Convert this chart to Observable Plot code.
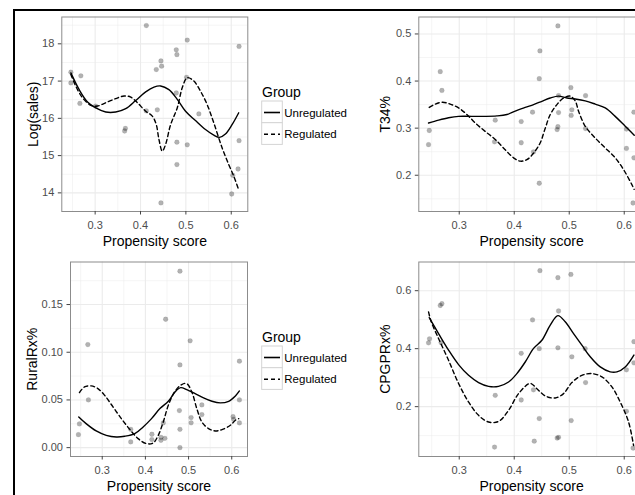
<!DOCTYPE html>
<html><head><meta charset="utf-8">
<script src="https://cdn.jsdelivr.net/npm/d3@7"></script>
<script src="https://cdn.jsdelivr.net/npm/@observablehq/plot@0.6"></script>
<style>
body{margin:0;background:#fff;}
#wrap{position:relative;width:635px;height:495px;overflow:hidden;background:#fff;font-family:"Liberation Sans",Arial,sans-serif;}
.abs{position:absolute;}
</style></head><body><div id="wrap"></div>
<script>
// ---------- data ----------
const groups = ["Unregulated", "Regulated"];
const xTicks = [0.3, 0.4, 0.5, 0.6];
const xMinor = [0.25, 0.35, 0.45, 0.55];
const xTitle = "Propensity score";

// Top-left: Log(sales)
const salesPtsX = [0.2465,0.2465,0.2685,0.2663,0.301,0.365,0.3667,0.4128,0.4128,0.437,0.4348,0.445,0.4465,0.445,0.4788,0.4802,0.4788,0.4802,0.4802,0.503,0.5015,0.503,0.5286,0.6172,0.6172,0.615,0.6033,0.601];
const salesPtsY = [17.24,16.95,17.14,16.40,16.33,15.66,15.73,18.49,16.20,16.23,17.31,17.54,17.40,13.73,17.84,17.71,16.68,15.36,14.76,18.10,17.10,15.29,16.12,17.93,15.40,14.64,14.47,13.97];
const salesUnregX = [0.2465,0.2648,0.2832,0.3015,0.3234,0.3454,0.3674,0.3894,0.4114,0.4297,0.4443,0.4626,0.481,0.4993,0.5212,0.5432,0.5615,0.574,0.5872,0.6018,0.6165];
const salesUnregY = [17.22,16.77,16.44,16.28,16.17,16.17,16.26,16.48,16.71,16.84,16.87,16.77,16.51,16.19,15.94,15.70,15.55,15.49,15.58,15.83,16.15];
const salesRegX = [0.2465,0.2575,0.2722,0.2905,0.3051,0.3234,0.3454,0.3637,0.3784,0.393,0.4114,0.426,0.4348,0.4407,0.448,0.4553,0.4663,0.481,0.492,0.503,0.5176,0.5322,0.5469,0.5615,0.5798,0.5945,0.6055,0.615];
const salesRegY = [17.18,16.86,16.55,16.35,16.33,16.42,16.53,16.60,16.57,16.42,16.19,16.06,15.83,15.43,15.12,15.30,15.83,16.28,16.82,17.09,17.00,16.73,16.37,15.88,15.21,14.76,14.45,14.13];
const salesTicks = [14, 15, 16, 17, 18];
const salesMinor = [13.5, 14.5, 15.5, 16.5, 17.5, 18.5];

// Top-right: T34%
const t34PtsX = [0.2442,0.2455,0.2655,0.2685,0.3642,0.3655,0.4127,0.4127,0.4333,0.435,0.4455,0.4467,0.4455,0.4794,0.4806,0.4806,0.4794,0.478,0.503,0.5048,0.5036,0.5297,0.5297,0.604,0.604,0.6176,0.6176,0.616];
const t34PtsY = [0.265,0.295,0.42,0.380,0.271,0.317,0.269,0.314,0.334,0.2495,0.183,0.464,0.405,0.517,0.369,0.333,0.303,0.297,0.386,0.339,0.327,0.369,0.299,0.298,0.257,0.334,0.237,0.141];
const t34UnregX = [0.2442,0.2624,0.2806,0.2988,0.323,0.3473,0.3685,0.3867,0.4018,0.42,0.4352,0.4503,0.4655,0.4806,0.4958,0.5109,0.5291,0.5473,0.5655,0.5836,0.6018,0.6182];
const t34UnregY = [0.311,0.317,0.322,0.325,0.325,0.325,0.326,0.329,0.336,0.344,0.35,0.357,0.364,0.368,0.364,0.362,0.358,0.351,0.343,0.325,0.304,0.285];
const t34RegX = [0.2455,0.2564,0.2697,0.2836,0.2988,0.3139,0.3291,0.3473,0.3655,0.3836,0.3988,0.4109,0.423,0.4352,0.4473,0.4564,0.4655,0.4776,0.4897,0.5018,0.5109,0.517,0.5291,0.5473,0.5655,0.5836,0.5988,0.6139,0.618];
const t34RegY = [0.344,0.351,0.355,0.351,0.343,0.329,0.311,0.293,0.276,0.254,0.237,0.230,0.233,0.247,0.269,0.30,0.329,0.35,0.364,0.368,0.358,0.336,0.304,0.279,0.258,0.237,0.212,0.180,0.170];
const t34Ticks = [0.2, 0.3, 0.4, 0.5];
const t34Minor = [0.15, 0.25, 0.35, 0.45];

// Bottom-left: RuralRx%
const ruralPtsX = [0.2448,0.2472,0.2666,0.268,0.366,0.366,0.415,0.415,0.436,0.436,0.445,0.4414,0.4469,0.48,0.48,0.4787,0.48,0.48,0.5036,0.5059,0.5059,0.5308,0.5308,0.603,0.6046,0.6178,0.6178,0.6178];
const ruralPtsY = [0.0136,0.0248,0.108,0.05,0.0192,0.006,0.014,0.0084,0.0108,0.0077,0.0098,0.0259,0.1346,0.185,0.0867,0.0388,0.0192,0.0,0.112,0.0315,0.026,0.0448,0.0346,0.0325,0.0297,0.0906,0.05,0.0259];
const ruralUnregX = [0.2456,0.2627,0.286,0.3093,0.3326,0.3521,0.3754,0.3948,0.4142,0.4336,0.4531,0.4686,0.4818,0.4958,0.5152,0.5347,0.5541,0.5735,0.5929,0.6085,0.6178];
const ruralUnregY = [0.0322,0.0252,0.0175,0.0129,0.0112,0.0119,0.0147,0.0217,0.0304,0.0409,0.0486,0.0584,0.0629,0.0608,0.0566,0.0521,0.0486,0.0469,0.0486,0.0542,0.0594];
const ruralRegX = [0.2472,0.2588,0.2744,0.2899,0.3054,0.3249,0.3443,0.3637,0.3831,0.4026,0.4181,0.4298,0.4414,0.4531,0.4686,0.4841,0.4958,0.5075,0.5191,0.5308,0.5463,0.5618,0.5774,0.5968,0.6085,0.6163];
const ruralRegY = [0.0577,0.0636,0.0647,0.0619,0.0549,0.0427,0.0304,0.0192,0.0094,0.0042,0.0049,0.0129,0.0269,0.0444,0.0591,0.0661,0.0671,0.0584,0.0409,0.0269,0.0199,0.0175,0.0189,0.0234,0.0287,0.0304];
const ruralTicks = [0, 0.05, 0.10, 0.15];
const ruralMinor = [0.025, 0.075, 0.125, 0.175];

// Bottom-right: CPGPRx%
const cpgPtsX = [0.2442,0.246,0.2655,0.2685,0.267,0.3655,0.3642,0.4127,0.4127,0.4333,0.435,0.4364,0.4455,0.4467,0.4455,0.4794,0.4806,0.4794,0.478,0.4806,0.503,0.5048,0.5036,0.5297,0.529,0.604,0.604,0.6176,0.6176,0.616];
const cpgPtsY = [0.420,0.434,0.549,0.555,0.421,0.239,0.0605,0.384,0.223,0.499,0.258,0.081,0.40,0.669,0.159,0.645,0.530,0.403,0.0916,0.094,0.656,0.372,0.152,0.283,0.40,0.327,0.184,0.424,0.351,0.057];
const cpgUnregX = [0.2455,0.2624,0.2806,0.2988,0.317,0.3352,0.3533,0.3715,0.3897,0.4048,0.42,0.4352,0.4503,0.4655,0.4794,0.4927,0.5079,0.523,0.5382,0.5564,0.5745,0.5867,0.6018,0.6176];
const cpgUnregY = [0.507,0.452,0.395,0.345,0.308,0.283,0.270,0.270,0.285,0.314,0.354,0.401,0.429,0.481,0.514,0.493,0.452,0.412,0.372,0.337,0.320,0.320,0.337,0.378];
const cpgRegX = [0.2442,0.2491,0.2624,0.2806,0.2988,0.317,0.3352,0.3533,0.3715,0.3897,0.4079,0.4291,0.4412,0.4564,0.4745,0.4897,0.5048,0.523,0.5412,0.5594,0.5776,0.5927,0.6079,0.617];
const cpgRegY = [0.527,0.493,0.435,0.360,0.280,0.216,0.170,0.147,0.149,0.187,0.245,0.280,0.262,0.237,0.230,0.245,0.283,0.308,0.314,0.303,0.268,0.216,0.147,0.066];
const cpgTicks = [0.2, 0.4, 0.6];
const cpgMinor = [0.1, 0.3, 0.5];

// ---------- helpers ----------
const zip = (xs, ys) => xs.map((x, i) => ({x, y: ys[i]}));
const wrap = document.getElementById("wrap");
const FONT = "'Liberation Sans', Arial, sans-serif";
const xDomain = [0.2265, 0.6365];
const gridColor = "#ebebeb";

function panel(cfg) {
  const svg = Plot.plot({
    width: cfg.width, height: cfg.height,
    marginLeft: cfg.mL, marginRight: cfg.mR, marginTop: cfg.mT, marginBottom: cfg.mB,
    x: {domain: xDomain},
    y: {domain: cfg.yDomain},
    style: {fontFamily: FONT, fontSize: "11px", background: "transparent", maxWidth: "none", overflow: "visible"},
    marks: [
      Plot.frame({fill: "white"}),
      Plot.gridX(xMinor, {stroke: gridColor, strokeOpacity: 1, strokeWidth: 0.5}),
      Plot.gridY(cfg.yMinor, {stroke: gridColor, strokeOpacity: 1, strokeWidth: 0.5}),
      Plot.gridX(xTicks, {stroke: gridColor, strokeOpacity: 1, strokeWidth: 1.1}),
      Plot.gridY(cfg.yTicks, {stroke: gridColor, strokeOpacity: 1, strokeWidth: 1.1}),
      Plot.dot(zip(cfg.ptsX, cfg.ptsY), {x: "x", y: "y", r: 2.4, fill: "#000", fillOpacity: 0.3, stroke: "#000", strokeOpacity: 0.12, strokeWidth: 0.6}),
      Plot.line(zip(cfg.unregX, cfg.unregY), {x: "x", y: "y", curve: "catmull-rom", stroke: "#000", strokeWidth: 1.4}),
      Plot.line(zip(cfg.regX, cfg.regY), {x: "x", y: "y", curve: "catmull-rom", stroke: "#000", strokeWidth: 1.4, strokeDasharray: "4,3"}),
      Plot.frame({stroke: "#8c8c8c", strokeWidth: 1}),
      Plot.axisX(xTicks, {tickSize: 3.5, tickPadding: 6, tickFormat: ".1f", label: xTitle, labelArrow: "none", labelAnchor: "center", labelOffset: cfg.xLO}),
      Plot.axisY(cfg.yTicks, {tickSize: 3.5, tickPadding: 4, tickFormat: cfg.yFmt, label: cfg.yLabel, labelArrow: "none", labelAnchor: "center", labelOffset: cfg.yLO})
    ]
  });
  const s = d3.select(svg);
  s.selectAll('[aria-label="x-axis tick label"], [aria-label="y-axis tick label"]').attr("fill", "#4d4d4d").attr("font-size", 11);
  s.selectAll('[aria-label="x-axis tick"], [aria-label="y-axis tick"]').attr("stroke", "#444");
  s.selectAll('[aria-label="x-axis label"], [aria-label="y-axis label"]').attr("fill", "#000").attr("font-size", 14)
    .selectAll("text").attr("font-size", 14).attr("fill", "#000")
    .each(function() { this.textContent = this.textContent.replace(/\s*[→↑←↓]\s*/g, ""); });
  const div = document.createElement("div");
  div.className = "abs";
  div.style.left = cfg.left + "px";
  div.style.top = cfg.top + "px";
  div.appendChild(svg);
  wrap.appendChild(div);
}

function legend(left, top) {
  const svg = d3.create("svg").attr("width", 100).attr("height", 70)
    .style("position", "absolute").style("left", left + "px").style("top", top + "px")
    .attr("font-family", FONT);
  svg.append("text").attr("x", 7).attr("y", 17.3).attr("font-size", 14).attr("fill", "#000").text("Group");
  const dash = {Unregulated: null, Regulated: "4,3"};
  groups.forEach((g, i) => {
    const y0 = 21 + i * 21.7;
    svg.append("rect").attr("x", 6.7).attr("y", y0).attr("width", 20.6).attr("height", 21.7)
      .attr("fill", "#fff").attr("stroke", "#d4d4d4").attr("stroke-width", 1);
    svg.append("line").attr("x1", 9).attr("x2", 25).attr("y1", y0 + 11.5).attr("y2", y0 + 11.5)
      .attr("stroke", "#000").attr("stroke-width", 1.6).attr("stroke-dasharray", dash[g]);
    svg.append("text").attr("x", 29.3).attr("y", y0 + 11.5).attr("dy", "0.35em")
      .attr("font-size", 11.5).attr("fill", "#000").text(g);
  });
  wrap.appendChild(svg.node());
}

// ---------- panels ----------
panel({left: 0, top: 0, width: 252, height: 252, mL: 61.3, mR: 4.7, mT: 16.5, mB: 41,
  yDomain: [13.5, 18.72], yTicks: salesTicks, yMinor: salesMinor, yFmt: d => String(d), yLabel: "Log(sales)",
  ptsX: salesPtsX, ptsY: salesPtsY, unregX: salesUnregX, unregY: salesUnregY, regX: salesRegX, regY: salesRegY,
  xLO: 34, yLO: 33.8});
panel({left: 360, top: 0, width: 290, height: 252, mL: 58.3, mR: 6.2, mT: 16.5, mB: 41,
  yDomain: [0.123, 0.536], yTicks: t34Ticks, yMinor: t34Minor, yFmt: ".1f", yLabel: "T34%",
  ptsX: t34PtsX, ptsY: t34PtsY, unregX: t34UnregX, unregY: t34UnregY, regX: t34RegX, regY: t34RegY,
  xLO: 34, yLO: 38.3});
panel({left: 0, top: 252, width: 252, height: 243, mL: 70, mR: 5, mT: 9.5, mB: 39,
  yDomain: [-0.0093, 0.1946], yTicks: ruralTicks, yMinor: ruralMinor, yFmt: ".2f", yLabel: "RuralRx%",
  ptsX: ruralPtsX, ptsY: ruralPtsY, unregX: ruralUnregX, unregY: ruralUnregY, regX: ruralRegX, regY: ruralRegY,
  xLO: 34, yLO: 43.3});
panel({left: 360, top: 252, width: 290, height: 243, mL: 58.3, mR: 6.2, mT: 9.5, mB: 39,
  yDomain: [0.028, 0.699], yTicks: cpgTicks, yMinor: cpgMinor, yFmt: ".1f", yLabel: "CPGPRx%",
  ptsX: cpgPtsX, ptsY: cpgPtsY, unregX: cpgUnregX, unregY: cpgUnregY, regX: cpgRegX, regY: cpgRegY,
  xLO: 34, yLO: 38.3});

legend(255, 80);
legend(255, 325);

// outer black border (top and left)
const bl = document.createElement("div");
bl.className = "abs"; bl.style.cssText += "left:13px;top:9px;width:2px;height:486px;background:#000;";
const bt = document.createElement("div");
bt.className = "abs"; bt.style.cssText += "left:13px;top:9px;width:622px;height:2px;background:#000;";
wrap.appendChild(bl); wrap.appendChild(bt);
</script></body></html>
